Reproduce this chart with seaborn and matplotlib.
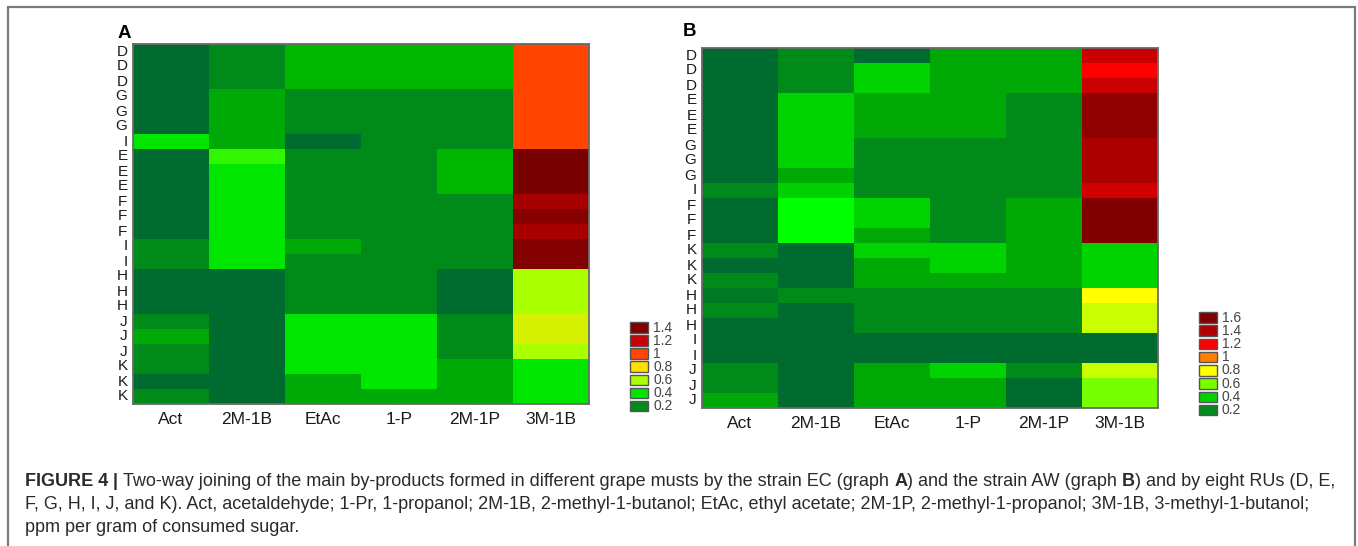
import numpy as np
import pandas as pd
import matplotlib
matplotlib.use("Agg")
import matplotlib.pyplot as plt
import seaborn as sns
from matplotlib.colors import LinearSegmentedColormap, Normalize
from matplotlib.patches import Rectangle

sns.set_theme(style="white")
plt.rcParams['font.family'] = ['Liberation Sans', 'DejaVu Sans']

# ---------------- data ----------------
compounds = ["Act", "2M-1B", "EtAc", "1-P", "2M-1P", "3M-1B"]

rows_A = ["D", "D", "D", "G", "G", "G", "I", "E", "E", "E", "F", "F", "F",
          "I", "I", "H", "H", "H", "J", "J", "J", "K", "K", "K"]
rows_B = ["D", "D", "D", "E", "E", "E", "G", "G", "G", "I", "F", "F", "F",
          "K", "K", "K", "H", "H", "H", "I", "I", "J", "J", "J"]

# Panel A (strain EC), ppm per gram of consumed sugar
act_A = [0.10, 0.10, 0.10, 0.10, 0.10, 0.10, 0.40, 0.10, 0.10, 0.10, 0.10, 0.10,
         0.10, 0.20, 0.20, 0.10, 0.10, 0.10, 0.20, 0.28, 0.20, 0.20, 0.10, 0.20]
m2b_A = [0.20, 0.20, 0.20, 0.28, 0.28, 0.28, 0.28, 0.46, 0.40, 0.40, 0.40, 0.40,
         0.40, 0.40, 0.40, 0.10, 0.10, 0.10, 0.10, 0.10, 0.10, 0.10, 0.10, 0.10]
etac_A = [0.31, 0.31, 0.31, 0.20, 0.20, 0.20, 0.10, 0.20, 0.20, 0.20, 0.20, 0.20,
          0.20, 0.27, 0.20, 0.20, 0.20, 0.20, 0.40, 0.40, 0.40, 0.40, 0.28, 0.28]
p1_A = [0.31, 0.31, 0.31, 0.20, 0.20, 0.20, 0.20, 0.20, 0.20, 0.20, 0.20, 0.20,
        0.20, 0.20, 0.20, 0.20, 0.20, 0.20, 0.40, 0.40, 0.40, 0.40, 0.40, 0.28]
m2p_A = [0.31, 0.31, 0.31, 0.20, 0.20, 0.20, 0.20, 0.31, 0.31, 0.31, 0.20, 0.20,
         0.20, 0.20, 0.20, 0.10, 0.10, 0.10, 0.20, 0.20, 0.20, 0.28, 0.28, 0.28]
m3b_A = [1.00, 1.00, 1.00, 1.00, 1.00, 1.00, 1.00, 1.45, 1.45, 1.45, 1.30, 1.38,
         1.30, 1.39, 1.39, 0.60, 0.60, 0.60, 0.70, 0.70, 0.60, 0.40, 0.40, 0.40]

# Panel B (strain AW)
act_B = [0.10, 0.10, 0.10, 0.10, 0.10, 0.10, 0.10, 0.10, 0.10, 0.20, 0.10, 0.10,
         0.10, 0.20, 0.10, 0.20, 0.15, 0.20, 0.10, 0.10, 0.10, 0.20, 0.20, 0.28]
m2b_B = [0.20, 0.20, 0.20, 0.40, 0.40, 0.40, 0.40, 0.40, 0.28, 0.39, 0.50, 0.50,
         0.50, 0.10, 0.10, 0.10, 0.20, 0.10, 0.10, 0.10, 0.10, 0.10, 0.10, 0.10]
etac_B = [0.10, 0.40, 0.40, 0.28, 0.28, 0.28, 0.20, 0.20, 0.20, 0.20, 0.40, 0.40,
          0.28, 0.40, 0.28, 0.28, 0.20, 0.20, 0.20, 0.10, 0.10, 0.28, 0.28, 0.28]
p1_B = [0.28, 0.28, 0.28, 0.28, 0.28, 0.28, 0.20, 0.20, 0.20, 0.20, 0.20, 0.20,
        0.20, 0.40, 0.40, 0.28, 0.20, 0.20, 0.20, 0.10, 0.10, 0.40, 0.28, 0.28]
m2p_B = [0.28, 0.28, 0.28, 0.20, 0.20, 0.20, 0.20, 0.20, 0.20, 0.20, 0.28, 0.28,
         0.28, 0.28, 0.28, 0.28, 0.20, 0.20, 0.20, 0.10, 0.10, 0.20, 0.10, 0.10]
m3b_B = [1.33, 1.20, 1.33, 1.53, 1.53, 1.53, 1.42, 1.42, 1.42, 1.32, 1.60, 1.60,
         1.60, 0.40, 0.40, 0.40, 0.80, 0.72, 0.72, 0.10, 0.10, 0.72, 0.60, 0.60]

levels_A = [0.2, 0.4, 0.6, 0.8, 1.0, 1.2, 1.4]
levels_B = [0.2, 0.4, 0.6, 0.8, 1.0, 1.2, 1.4, 1.6]

# ---------------- colour scales ----------------
nodes_A = [(0.0, "#00622F"), (0.1, "#006B2E"), (0.2, "#008A1A"), (0.3, "#00B400"),
           (0.4, "#00E600"), (0.5, "#55FF00"), (0.6, "#AAFF00"), (0.8, "#FFE000"),
           (1.0, "#FF4500"), (1.2, "#CC0000"), (1.4, "#800000"), (1.5, "#700000")]
nodes_B = [(0.0, "#00622F"), (0.1, "#006B2E"), (0.2, "#008A1A"), (0.3, "#00B000"),
           (0.4, "#00D400"), (0.5, "#00FF00"), (0.6, "#77FF00"), (0.8, "#FFFF00"),
           (1.0, "#FF8000"), (1.2, "#FF0000"), (1.4, "#B00000"), (1.6, "#800000"),
           (1.7, "#700000")]


def make_cmap(nodes, name):
    vmax = nodes[-1][0]
    return (LinearSegmentedColormap.from_list(name, [(v / vmax, c) for v, c in nodes]),
            Normalize(vmin=0.0, vmax=vmax))


cmapA, normA = make_cmap(nodes_A, "twowayA")
cmapB, normB = make_cmap(nodes_B, "twowayB")

dfA = pd.DataFrame({"Act": act_A, "2M-1B": m2b_A, "EtAc": etac_A, "1-P": p1_A,
                    "2M-1P": m2p_A, "3M-1B": m3b_A})[compounds]
dfB = pd.DataFrame({"Act": act_B, "2M-1B": m2b_B, "EtAc": etac_B, "1-P": p1_B,
                    "2M-1P": m2p_B, "3M-1B": m3b_B})[compounds]

# ---------------- figure ----------------
W, H = 1358, 546
fig = plt.figure(figsize=(W / 100, H / 100), dpi=100)
fig.patch.set_facecolor("white")


def fx(px):
    return px / W


def fy(py):
    return 1 - py / H


def heat(df, rows, cmap, norm, box):
    left, top, right, bottom = box
    ax = fig.add_axes([fx(left), fy(bottom), (right - left) / W, (bottom - top) / H])
    sns.heatmap(df, ax=ax, cmap=cmap, vmin=norm.vmin, vmax=norm.vmax, cbar=False,
                xticklabels=compounds, yticklabels=rows, linewidths=0)
    for s in ax.spines.values():
        s.set_visible(True)
        s.set_color("#6a6a6a")
        s.set_linewidth(1.3)
    ax.set_xlabel("")
    ax.set_ylabel("")
    plt.setp(ax.get_yticklabels(), rotation=0)
    plt.setp(ax.get_xticklabels(), rotation=0)
    ax.tick_params(axis="y", which="major", length=0, pad=4, labelsize=11,
                   labelcolor="#1a1a1a")
    ax.tick_params(axis="x", which="major", direction="in", length=3, width=0.9,
                   color="#222222", top=True, bottom=True, pad=6, labelsize=12.5,
                   labelcolor="#1a1a1a")
    ax.set_yticks(np.arange(0, len(rows), 2) + 0.5, minor=True)
    ax.tick_params(axis="y", which="minor", direction="in", length=3, width=0.9,
                   color="#222222", left=True, right=True)
    return ax


axA = heat(dfA, rows_A, cmapA, normA, (133, 44, 589, 404))
axB = heat(dfB, rows_B, cmapB, normB, (702, 48, 1158, 408))

fig.text(fx(124), fy(33), "A", fontsize=13.5, fontweight="bold", ha="center",
         va="center", color="#000000")
fig.text(fx(690), fy(32), "B", fontsize=13.5, fontweight="bold", ha="center",
         va="center", color="#000000")


def legend(levels, cmap, norm, x0, y_top, pitch):
    for i, lv in enumerate(reversed(levels)):
        yt = y_top + i * pitch
        fig.add_artist(Rectangle((fx(x0), fy(yt + 10.5)), 18 / W, 10.5 / H,
                                 transform=fig.transFigure, facecolor=cmap(norm(lv)),
                                 edgecolor="#555555", linewidth=1.0))
        fig.text(fx(x0 + 23), fy(yt + 5.5), f"{lv:g}", fontsize=10, color="#444444",
                 ha="left", va="center")


legend(levels_A, cmapA, normA, 630, 322, 13.15)
legend(levels_B, cmapB, normB, 1199, 312, 13.25)

# outer frame
fig.add_artist(Rectangle((fx(8), fy(570)), (1355 - 8) / W, (570 - 7) / H,
                         transform=fig.transFigure, facecolor="none",
                         edgecolor="#7a7a7a", linewidth=1.6, clip_on=False))

# ---------------- caption ----------------
renderer = fig.canvas.get_renderer()
line1 = [("FIGURE 4", "bold"), (" | ", "bold"),
         ("Two-way joining of the main by-products formed in different grape musts by the strain EC (graph ", "normal"),
         ("A", "bold"), (") and the strain AW (graph ", "normal"), ("B", "bold"),
         (") and by eight RUs (D, E,", "normal")]
line2 = [("F, G, H, I, J, and K). Act, acetaldehyde; 1-Pr, 1-propanol; 2M-1B, 2-methyl-1-butanol; "
          "EtAc, ethyl acetate; 2M-1P, 2-methyl-1-propanol; 3M-1B, 3-methyl-1-butanol;", "normal")]
line3 = [("ppm per gram of consumed sugar.", "normal")]


def run_width(s, weight, size):
    t = fig.text(0, 0, s + "|", fontsize=size, fontweight=weight)
    w1 = t.get_window_extent(renderer).width
    t.set_text("|")
    w2 = t.get_window_extent(renderer).width
    t.remove()
    return w1 - w2


base = 10.0
w_line1 = sum(run_width(s, w, base) for s, w in line1)
cap_size = base * (1338 - 25) / w_line1


def draw_line(runs, y_base):
    x = 25.0
    for s, w in runs:
        fig.text(fx(x), fy(y_base), s, fontsize=cap_size, fontweight=w,
                 color="#2a2a2a", ha="left", va="baseline")
        x += run_width(s, w, cap_size)


draw_line(line1, 486)
draw_line(line2, 509)
draw_line(line3, 532)

fig.savefig("out.png", dpi=100)
